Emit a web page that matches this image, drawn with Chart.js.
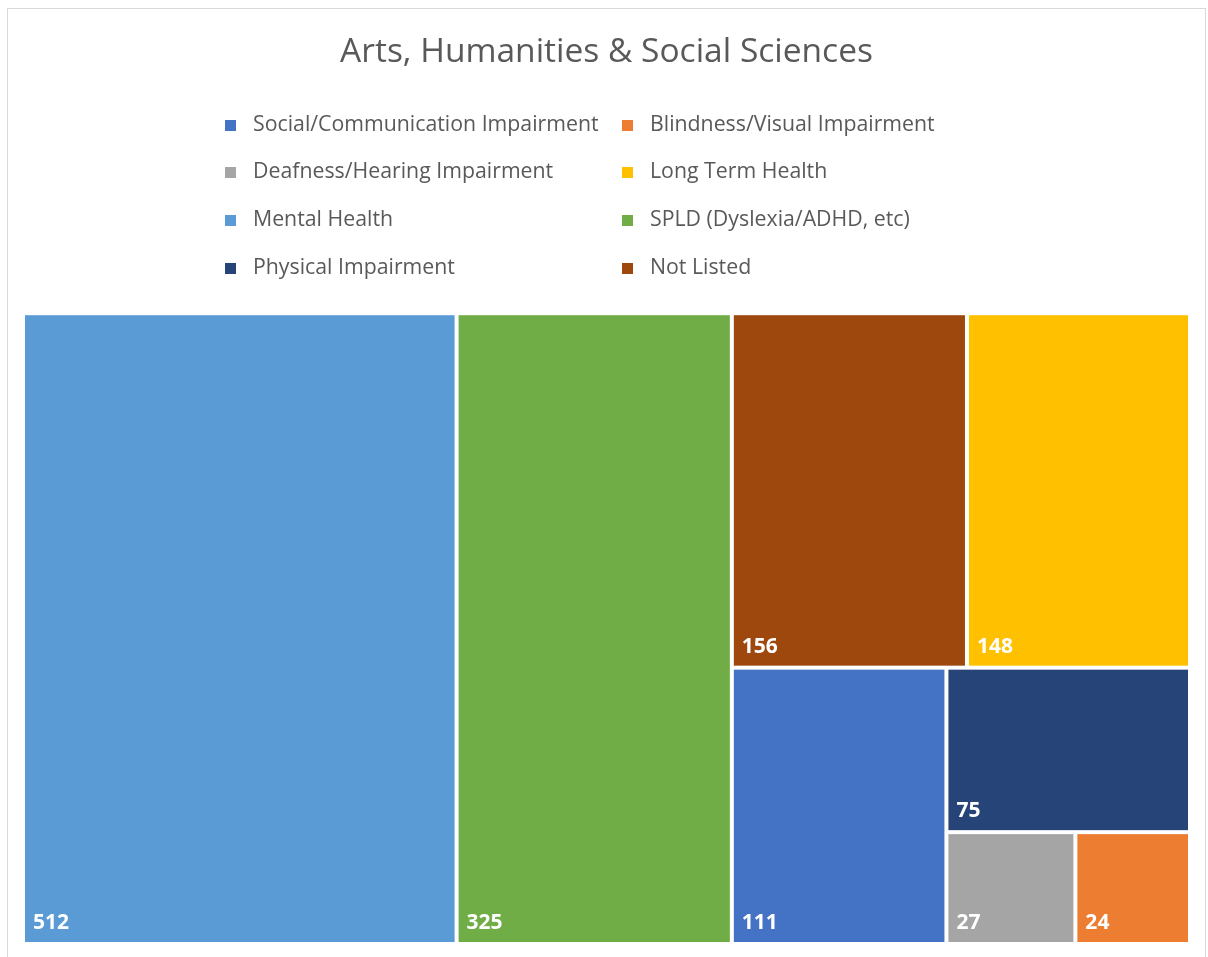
<!DOCTYPE html>
<html>
<head>
<meta charset="utf-8">
<script src="https://cdn.jsdelivr.net/npm/chart.js@4"></script>
<style>
  html, body { margin: 0; padding: 0; background: #fff; }
  #wrap { width: 1208px; height: 957px; }
</style>
</head>
<body>
<div id="wrap"><canvas id="myChart"></canvas></div>
<script>
const TITLE = 'Arts, Humanities & Social Sciences';

const categories = [
  'Social/Communication Impairment',
  'Blindness/Visual Impairment',
  'Deafness/Hearing Impairment',
  'Long Term Health',
  'Mental Health',
  'SPLD (Dyslexia/ADHD, etc)',
  'Physical Impairment',
  'Not Listed'
];

const counts = [111, 24, 27, 148, 512, 325, 75, 156];

const colors = [
  '#4472C4',
  '#ED7D31',
  '#A5A5A5',
  '#FFC000',
  '#5B9BD5',
  '#70AD47',
  '#264478',
  '#9E480E'
];

const TEXT = '#595959';
const FONT = "'Open Sans', 'Noto Sans', sans-serif";

// ordered binary split: cut the sorted list where the two halves are closest in sum,
// and cut the rectangle across its longer side (measured in pixels)
function splitLayout(items, r, xs, ys, out) {
  if (items.length === 1) {
    out.push({ item: items[0], x0: r.x0, x1: r.x1, y0: r.y0, y1: r.y1 });
    return;
  }
  var total = items.reduce(function(s, d) { return s + d.value; }, 0);
  var best = 1, bestDiff = Infinity, run = 0;
  for (var k = 1; k < items.length; k++) {
    run += items[k - 1].value;
    var diff = Math.abs(run - total / 2);
    if (diff < bestDiff) { bestDiff = diff; best = k; }
  }
  var a = items.slice(0, best), b = items.slice(best);
  var frac = a.reduce(function(s, d) { return s + d.value; }, 0) / total;
  var pw = Math.abs(xs.getPixelForValue(r.x1) - xs.getPixelForValue(r.x0));
  var ph = Math.abs(ys.getPixelForValue(r.y1) - ys.getPixelForValue(r.y0));
  if (pw >= ph) {
    var xm = r.x0 + (r.x1 - r.x0) * frac;
    splitLayout(a, { x0: r.x0, x1: xm, y0: r.y0, y1: r.y1 }, xs, ys, out);
    splitLayout(b, { x0: xm, x1: r.x1, y0: r.y0, y1: r.y1 }, xs, ys, out);
  } else {
    var ym = r.y0 + (r.y1 - r.y0) * frac;
    splitLayout(a, { x0: r.x0, x1: r.x1, y0: r.y0, y1: ym }, xs, ys, out);
    splitLayout(b, { x0: r.x0, x1: r.x1, y0: ym, y1: r.y1 }, xs, ys, out);
  }
}

const treemapPlugin = {
  id: 'treemap',
  beforeDraw(chart) {
    const ctx = chart.ctx;
    ctx.save();
    ctx.fillStyle = '#fff';
    ctx.fillRect(0, 0, chart.width, chart.height);
    ctx.strokeStyle = '#d9d9d9';
    ctx.lineWidth = 1;
    ctx.strokeRect(7.5, 8.5, 1198, 980);
    ctx.restore();
  },
  afterDatasetsDraw(chart) {
    const ctx = chart.ctx;
    const xs = chart.scales.x, ys = chart.scales.y;
    const items = categories.map(function(c, i) {
      return { label: c, value: counts[i], color: colors[i] };
    }).sort(function(p, q) { return q.value - p.value; });
    const cells = [];
    splitLayout(items, { x0: 0, x1: 1, y0: 0, y1: 1 }, xs, ys, cells);
    const gap = 2;
    ctx.save();
    cells.forEach(function(c) {
      const left = xs.getPixelForValue(c.x0) + gap;
      const right = xs.getPixelForValue(c.x1) - gap;
      const top = ys.getPixelForValue(c.y0) + gap;
      const bottom = ys.getPixelForValue(c.y1) - gap;
      ctx.fillStyle = c.item.color;
      ctx.fillRect(left, top, right - left, bottom - top);
      ctx.fillStyle = '#fff';
      ctx.font = 'bold 21px ' + FONT;
      ctx.textAlign = 'left';
      ctx.textBaseline = 'alphabetic';
      ctx.fillText(String(c.item.value), left + 8, bottom - 13);
    });
    ctx.restore();
  },
  afterDraw(chart) {
    // legend, two columns in the space under the title
    const ctx = chart.ctx;
    const colX = [225, 622];
    const rowY = [125, 172, 220, 268];
    ctx.save();
    ctx.font = '21.3px ' + FONT;
    ctx.textBaseline = 'middle';
    ctx.textAlign = 'left';
    categories.forEach(function(c, i) {
      const x = colX[i % 2], y = rowY[Math.floor(i / 2)];
      ctx.fillStyle = colors[i];
      ctx.fillRect(x, y - 5, 11, 11);
      ctx.fillStyle = TEXT;
      ctx.fillText(c, x + 28, y);
    });
    ctx.restore();
  }
};

window.onload = function() {
  const ctx = document.getElementById('myChart');

  const data = {
    datasets: [{
      label: TITLE,
      data: []
    }]
  };

  const config = {
    type: 'scatter',
    data: data,
    plugins: [treemapPlugin],
    options: {
      responsive: true,
      maintainAspectRatio: false,
      animation: false,
      layout: { padding: { left: 23, right: 18, top: 0, bottom: 13 } },
      scales: {
        x: { type: 'linear', min: 0, max: 1, display: false },
        y: { type: 'linear', min: 0, max: 1, reverse: true, display: false }
      },
      plugins: {
        legend: { display: false },
        tooltip: { enabled: false },
        title: {
          display: true,
          text: TITLE,
          color: TEXT,
          font: { family: FONT, size: 33.5, weight: 'normal', lineHeight: 1.2 },
          padding: { top: 32, bottom: 241 }
        }
      }
    }
  };

  new Chart(ctx, config);
};
</script>
</body>
</html>
